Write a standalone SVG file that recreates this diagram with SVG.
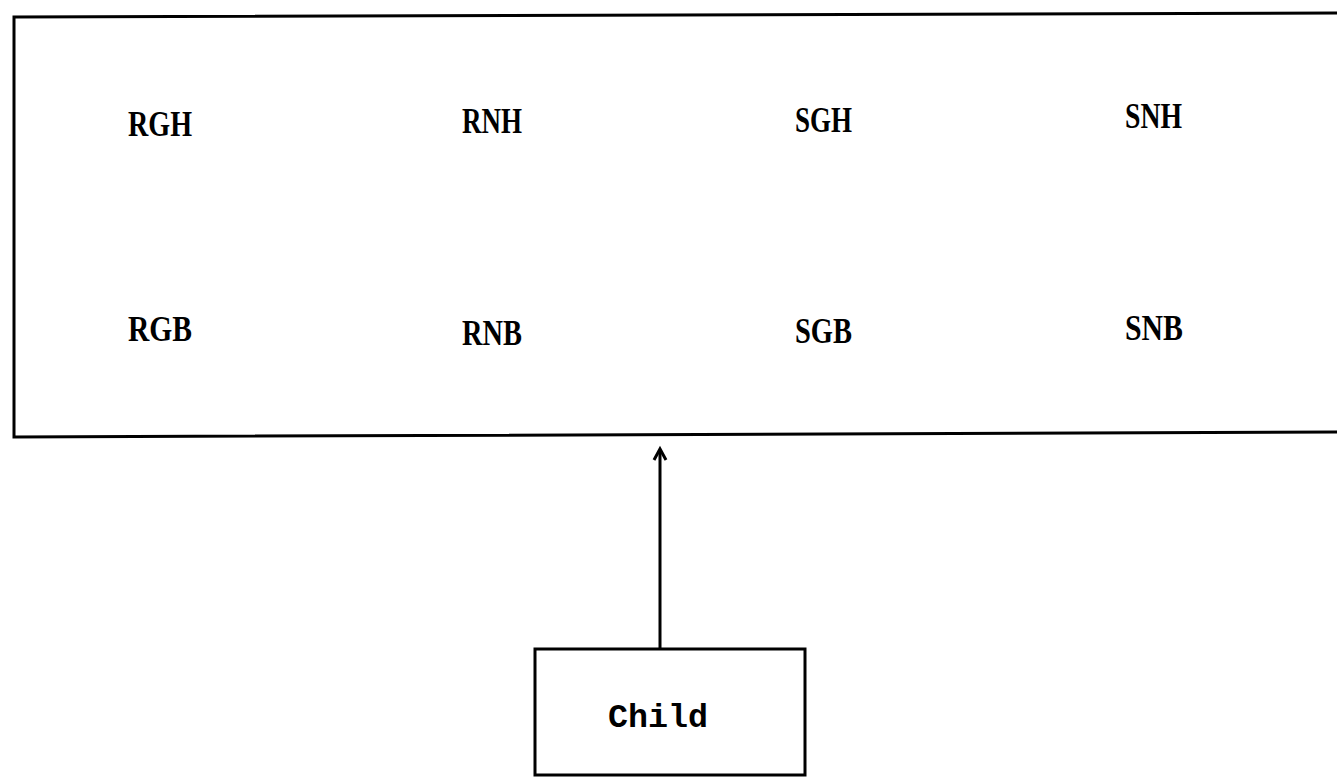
<svg xmlns="http://www.w3.org/2000/svg" width="1337" height="778" viewBox="0 0 1337 778">
<style>
.box{fill:none;stroke:#000;stroke-width:3}
.lbl{font-family:"Liberation Serif",serif;font-weight:bold;font-size:35px;fill:#000}
.mono{font-family:"Liberation Mono",monospace;font-weight:bold;font-size:34px;fill:#000}
.conn{fill:none;stroke:#000;stroke-width:3}
</style>
<rect width="1337" height="778" fill="#fff"/>
<g id="parent">
<path class="box" d="M1345,13 L14,17 L14,437 L1345,432"/>
<text class="lbl" x="128" y="136" textLength="64" lengthAdjust="spacingAndGlyphs">RGH</text>
<text class="lbl" x="462" y="133" textLength="60" lengthAdjust="spacingAndGlyphs">RNH</text>
<text class="lbl" x="795" y="132" textLength="57" lengthAdjust="spacingAndGlyphs">SGH</text>
<text class="lbl" x="1125" y="128" textLength="57" lengthAdjust="spacingAndGlyphs">SNH</text>
<text class="lbl" x="128" y="341" textLength="64" lengthAdjust="spacingAndGlyphs">RGB</text>
<text class="lbl" x="462" y="345" textLength="60" lengthAdjust="spacingAndGlyphs">RNB</text>
<text class="lbl" x="795" y="343" textLength="57" lengthAdjust="spacingAndGlyphs">SGB</text>
<text class="lbl" x="1125" y="340" textLength="58" lengthAdjust="spacingAndGlyphs">SNB</text>
</g>
<g id="child">
<rect class="box" x="535" y="649" width="270" height="126"/>
<text class="mono" x="608" y="727" textLength="100" lengthAdjust="spacingAndGlyphs">Child</text>
</g>
<g id="connectors">
<line class="conn" x1="660" y1="649" x2="660" y2="451"/>
<path class="conn" d="M654,460 L660,449 L666,460"/>
</g>
</svg>
